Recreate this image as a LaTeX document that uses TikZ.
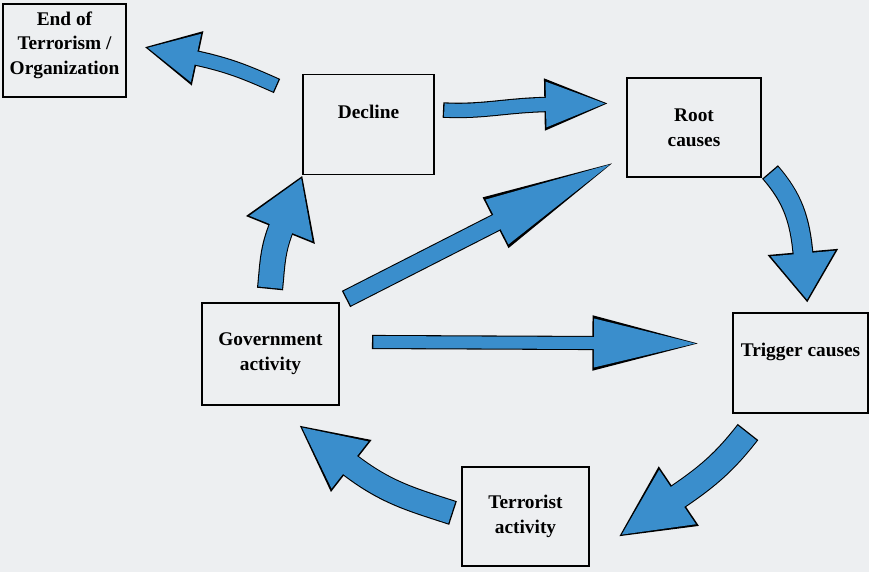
\documentclass[tikz,border=0pt]{standalone}
\usepackage{fontspec}
\setmainfont{Liberation Serif}
\usepackage{tikz}
\usetikzlibrary{arrows.meta}
\tikzset{every picture/.style={line width=0.75pt}}
\definecolor{arrowblue}{RGB}{58,142,204}
\definecolor{paper}{RGB}{237,239,241}
\tikzset{
  box/.style={draw, line width=1.3pt, minimum width=100pt, minimum height=75pt, inner sep=0pt, align=center, font=\fontsize{14.5}{18.5}\selectfont\bfseries},
  upper/.style={text depth=19.5pt},
  % path runs from the tail to the base of the head
  blk/.style n args={3}{draw=arrowblue, line width=#1, shorten <=1pt, -{Triangle[length=#2, width=#3, sep=-#2]},
    preaction={draw=black, line width=#1+1.6pt, shorten <=0pt, -{Triangle[length=#2+3.2pt, width=#3+4.4pt, sep=-#2-2pt]}}},
}
\begin{document}
\begin{tikzpicture}[x=0.75pt,y=0.75pt,yscale=-1,xscale=1]
\fill[paper] (0,0) rectangle (869,572);
\useasboundingbox (0,0) rectangle (869,572);

%Shape: Rectangle
\node[box, text depth=11pt, minimum width=92pt, minimum height=70pt] (endb) at (64.5,50.5) {End of\\Terrorism /\\Organization};
%Shape: Rectangle
\node[box, upper, minimum width=98pt] (decline) at (368.5,124.5) {Decline};
%Shape: Rectangle
\node[box, minimum height=74pt] (root) at (694,127.5) {Root\\causes};
%Shape: Rectangle
\node[box, upper, minimum width=101pt] (trigger) at (800.5,363) {Trigger causes};
%Shape: Rectangle
\node[box, minimum width=103pt, minimum height=76pt] (govt) at (270.5,354) {Government\\activity};
%Shape: Rectangle
\node[box, minimum width=95pt, minimum height=74pt] (terror) at (525.5,516.5) {Terrorist\\activity};

% arrow tails and head bases
\coordinate (d2e) at (277,86);   \coordinate (e) at (196,58);
\coordinate (d2r) at (443,110);  \coordinate (r) at (546,104.5);
\coordinate (r2t) at (770,172);  \coordinate (t) at (803,253.5);
\coordinate (t2a) at (748,432);  \coordinate (a) at (677.5,497);
\coordinate (a2g) at (453,513);  \coordinate (g) at (350,465);
\coordinate (g2d) at (270,289);  \coordinate (d) at (281,228.5);
\coordinate (g2r) at (346,299);  \coordinate (rr) at (497,222);
\coordinate (g2t) at (372,342);  \coordinate (tt) at (594,343);

%Curve Lines
\draw[blk={10pt}{38pt}{34pt}] (d2e) to[out=204,in=12] (e);
\draw[blk={10pt}{46pt}{31pt}] (d2r) to[out=3,in=179] (r);
\draw[blk={14pt}{35pt}{46pt}] (r2t) to[out=49,in=265] (t);
\draw[blk={18pt}{52pt}{45pt}] (t2a) to[out=128,in=-34] (a);
\draw[blk={17pt}{47pt}{41pt}] (a2g) to[out=198,in=38] (g);
\draw[blk={18pt}{41pt}{48pt}] (g2d) to[out=-84,in=112] (d);
%Straight Lines
\draw[blk={12pt}{100pt}{34pt}] (g2r) -- (rr);
\draw[blk={9pt}{78pt}{34pt}] (g2t) -- (tt);

\end{tikzpicture}
\end{document}
